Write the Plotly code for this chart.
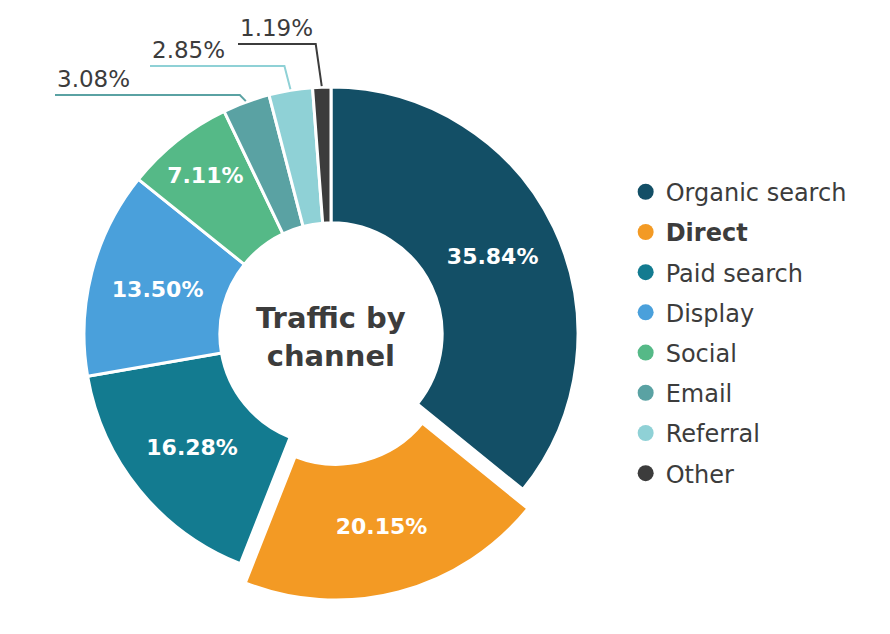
import math
import plotly.graph_objects as go

# traffic share by channel (percent)
channels = ["Organic search", "Direct", "Paid search", "Display",
            "Social", "Email", "Referral", "Other"]
shares = [35.84, 20.15, 16.28, 13.50, 7.11, 3.08, 2.85, 1.19]
colors = ["#134f66", "#f39a24", "#137b90", "#4aa0db",
          "#55b987", "#5aa2a3", "#8fd1d6", "#3c3c3c"]
pulls = [0, 0.08, 0, 0, 0, 0, 0, 0]

W, H = 890, 634
OFF = 8                  # page body margin in the browser
CX, CY = 331 - OFF, 334 - OFF   # pie centre in px (figure coords)
R = 247                  # outer radius px
FONT = "DejaVu Sans"
DARK = "#3c3c3c"

# domain so that plotly draws the pie with radius R (pie shrinks by 1+maxPull)
half = R * (1 + max(pulls))
dom_x = [(CX - half) / W, (CX + half) / W]
dom_y = [(H - CY - half) / H, (H - CY + half) / H]

inside = [s >= 5 for s in shares]

fig = go.Figure()
fig.add_trace(go.Pie(
    labels=channels, values=shares,
    sort=False, direction="clockwise", rotation=0,
    hole=0.45, pull=pulls,
    marker=dict(colors=colors, line=dict(color="white", width=3)),
    text=[f"<b>{s:.2f}%</b>" for s in shares],
    texttemplate="%{text}",
    textposition=["inside" if i else "none" for i in inside],
    insidetextorientation="horizontal",
    insidetextfont=dict(family=FONT, size=22, color="white"),
    domain=dict(x=dom_x, y=dom_y),
    showlegend=False,
    hoverinfo="label+percent",
))

# legend with round markers
for name, col in zip(channels, colors):
    fig.add_trace(go.Scatter(
        x=[None], y=[None], mode="markers",
        marker=dict(size=16, color=col),
        name=f"<b>{name}</b>" if name == "Direct" else name,
        legendgroup=name,
    ))

# outside labels for the small slices, with bent leader lines
label_style = {  # y level of the horizontal line, x where it ends (px)
    "Email": (95 - OFF, 55 - OFF),
    "Referral": (66 - OFF, 150 - OFF),
    "Other": (44 - OFF, 238 - OFF),
}
shapes = []
annotations = []
total = sum(shares)
cum = 0
for name, s, col in zip(channels, shares, colors):
    mid = (cum + s / 2) / total * 2 * math.pi
    cum += s
    if name not in label_style:
        continue
    ly, lx = label_style[name]
    ex = CX + (R + 1) * math.sin(mid)
    ey = CY - (R + 1) * math.cos(mid)
    kx = ex - 6
    px = lambda x: x / W
    py = lambda y: (H - y) / H
    shapes.append(dict(type="path", xref="paper", yref="paper",
                       path=f"M {px(ex)} {py(ey)} L {px(kx)} {py(ly)} L {px(lx)} {py(ly)}",
                       line=dict(color=col, width=2)))
    annotations.append(dict(x=px(lx), y=py(ly - 1), xref="paper", yref="paper",
                            xanchor="left", yanchor="bottom", showarrow=False,
                            text=f"{s:.2f}%",
                            font=dict(family=FONT, size=23, color=DARK)))

annotations.append(dict(x=CX / W, y=(H - CY - 3) / H, xref="paper", yref="paper",
                        showarrow=False, text="<b>Traffic by<br>channel</b>",
                        font=dict(family=FONT, size=29, color=DARK)))

fig.update_layout(
    width=W, height=H,
    margin=dict(l=0, r=0, t=0, b=0),
    paper_bgcolor="white", plot_bgcolor="white",
    xaxis=dict(visible=False), yaxis=dict(visible=False),
    legend=dict(x=0.694, y=0.745, xanchor="left", yanchor="top",
                font=dict(family=FONT, size=24, color=DARK),
                tracegroupgap=6, itemclick=False),
    shapes=shapes,
    annotations=annotations,
)

fig.write_html("out.html")
